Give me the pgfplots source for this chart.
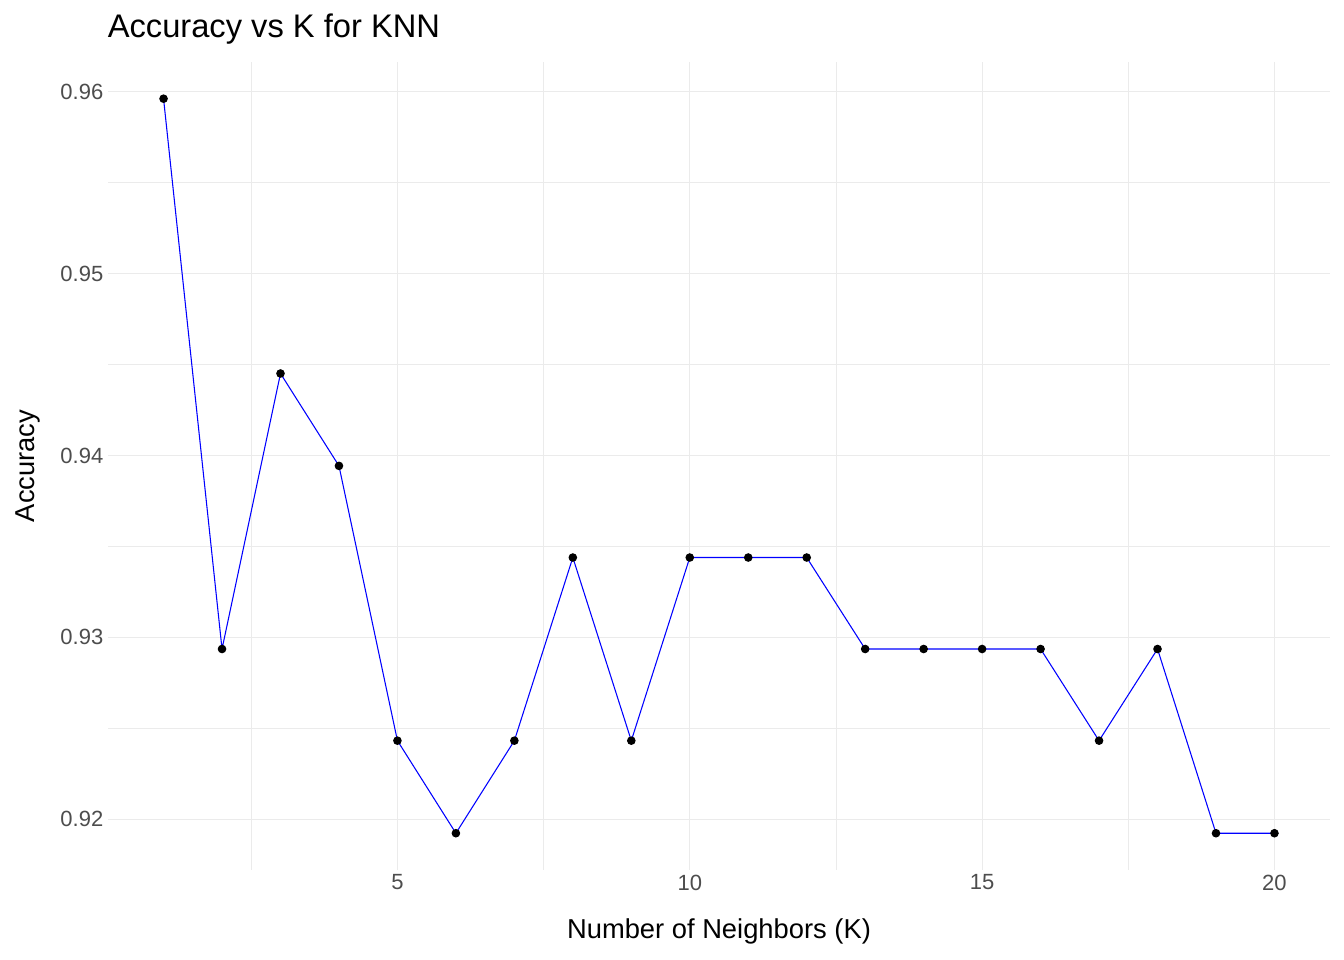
\documentclass[border=0pt]{standalone}
\usepackage{pgfplots}
\pgfplotsset{compat=1.18}
\usepackage{fontspec}
\setmainfont{Liberation Sans}
\definecolor{gridc}{HTML}{EBEBEB}
\definecolor{tickc}{HTML}{4D4D4D}
\begin{document}
\begin{tikzpicture}
\begin{axis}[
  scale only axis, width=916.5pt, height=606pt,
  xmin=0.05, xmax=20.95, ymin=0.91721, ymax=0.96164,
  axis line style={draw=none}, tick style={draw=none},
  xtick={5,10,15,20}, minor xtick={2.5,7.5,12.5,17.5},
  ytick={0.92,0.93,0.94,0.95,0.96}, minor ytick={0.925,0.935,0.945,0.955},
  yticklabel style={/pgf/number format/.cd,fixed,precision=2,fixed zerofill},
  /pgf/number format/assume math mode=true,
  grid=both,
  major grid style={gridc, line width=0.8pt},
  minor grid style={gridc, line width=0.4pt},
  ticklabel style={font=\fontsize{16.5}{18}\selectfont, text=tickc},
  clip=false,
]
\path (rel axis cs:-0.0884,-0.1114) rectangle (rel axis cs:1.01146,1.0767);
\addplot[blue, line width=0.8pt, mark=*, mark size=2.8pt, mark options={black, fill=black}] coordinates {
(1,0.95962)(2,0.92936)(3,0.94451)(4,0.93943)(5,0.92432)(6,0.91923)(7,0.92432)(8,0.93439)(9,0.92432)(10,0.93439)(11,0.93439)(12,0.93439)(13,0.92936)(14,0.92936)(15,0.92936)(16,0.92936)(17,0.92432)(18,0.92936)(19,0.91923)(20,0.91923)};
\node[anchor=west, font=\fontsize{24.5}{27}\selectfont] at (rel axis cs:-0.004,1.041) {Accuracy vs K for KNN};
\node[font=\fontsize{20.5}{23}\selectfont] at (rel axis cs:0.5,-0.0755) {Number of Neighbors (K)};
\node[rotate=90, font=\fontsize{20.5}{23}\selectfont] at (rel axis cs:-0.0655,0.5) {Accuracy};
\end{axis}
\end{tikzpicture}
\end{document}
